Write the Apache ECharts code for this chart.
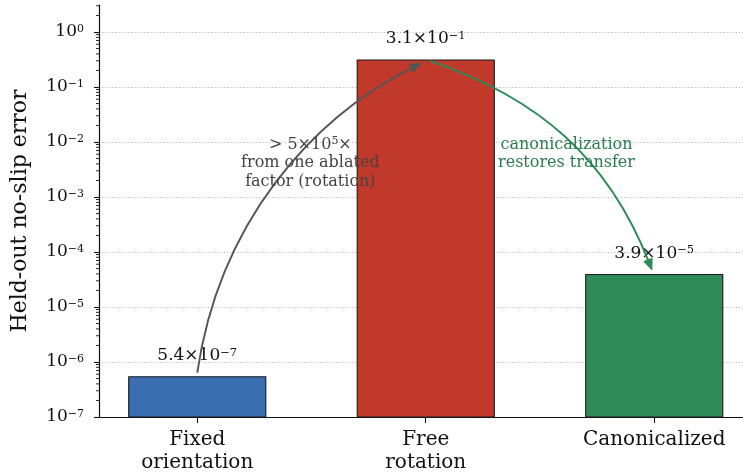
<!DOCTYPE html>
<html>
<head>
<meta charset="utf-8">
<script src="https://cdn.jsdelivr.net/npm/echarts@6/dist/echarts.min.js"></script>
<style>html,body{margin:0;padding:0;background:#fff}#c{width:743px;height:474px}</style>
</head>
<body>
<div id="c"></div>
<script>
// ---- data ----
const categories = ['Fixed\norientation', 'Free\nrotation', 'Canonicalized'];
const errors = [5.4e-7, 3.1e-1, 3.9e-5];
const labelMantissa = ['5.4', '3.1', '3.9'];
const labelExponent = [-7, -1, -5];
const yTickExponents = [-7, -6, -5, -4, -3, -2, -1, 0];
const barColors = ['#3a6eb0', '#c0392b', '#2e8b57'];

// ---- layout / style ----
const SERIF = "'DejaVu Serif', serif";
const MINUS = '\u2212';
const Y_MIN = 1e-7, Y_MAX = 3.1;
const X_MIN = -0.43, X_MAX = 2.43;
const BAR_W = 0.6;
const expStr = e => (e < 0 ? MINUS : '') + Math.abs(e);

const annotations = [
  { from: [0, 6.4e-7], to: [0.98, 0.27], c1: [22, -150], c2: [-110, 55], color: '#555555' },
  { from: [1.02, 0.30], to: [1.99, 4.7e-5], c1: [108, 37], c2: [-44, -112], color: '#2e8b57' }
];
const notes = [
  { at: [0.495, 4.15e-3], color: '#444444',
    text: '{g|> 5×10}{gs|5}{g|×}\n{g|from one ablated}\n{g|factor (rotation)}' },
  { at: [1.616, 6.1e-3], color: '#2b7d50',
    text: '{g|canonicalization}\n{g|restores transfer}' }
];

const chart = echarts.init(document.getElementById('c'), null, { renderer: 'canvas' });

const option = {
  backgroundColor: '#ffffff',
  animation: false,
  grid: { left: 99, top: 5, width: 653.5, height: 412, containLabel: false, outerBoundsMode: 'none' },
  xAxis: {
    type: 'value', min: X_MIN, max: X_MAX,
    splitLine: { show: false },
    axisLine: { onZero: false, lineStyle: { color: '#111', width: 1.2 } },
    axisTick: { show: true, customValues: [0, 1, 2], length: 6, lineStyle: { color: '#111', width: 1.1 } },
    axisLabel: {
      customValues: [0, 1, 2],
      formatter: v => categories[Math.round(v)],
      fontFamily: SERIF, fontSize: 20, lineHeight: 23, color: '#111', margin: 11
    }
  },
  yAxis: {
    type: 'log', logBase: 10, min: Y_MIN, max: Y_MAX,
    name: 'Held-out no-slip error', nameLocation: 'middle', nameGap: 68,
    nameTextStyle: { fontFamily: SERIF, fontSize: 22, color: '#111' },
    axisLine: { show: true, onZero: false, lineStyle: { color: '#111', width: 1.2 } },
    axisTick: { show: true, length: 5, lineStyle: { color: '#111', width: 1.1 } },
    splitLine: { show: true, showMinLine: false, showMaxLine: false,
      lineStyle: { color: '#b8b8b8', width: 1, type: [1.2, 2] } },
    axisLabel: {
      margin: 15, showMaxLabel: false,
      formatter: v => {
        const e = Math.log10(v);
        const r = Math.round(e);
        if (Math.abs(e - r) > 1e-6 || yTickExponents.indexOf(r) < 0) return '';
        return '{m|10}{e|' + expStr(r) + '}';
      },
      rich: {
        m: { fontFamily: SERIF, fontSize: 17, color: '#111', lineHeight: 16 },
        e: { fontFamily: SERIF, fontSize: 11, color: '#111', lineHeight: 16, verticalAlign: 'top' }
      }
    }
  },
  series: [
    {
      type: 'custom', name: 'bars', coordinateSystem: 'cartesian2d', z: 3, clip: false,
      data: errors.map((v, i) => [i, v]),
      encode: { x: 0, y: 1 },
      renderItem: (params, api) => {
        const i = params.dataIndex;
        const x = api.value(0), v = api.value(1);
        const top = api.coord([x, v]);
        const bot = api.coord([x, Y_MIN]);
        const l = api.coord([x - BAR_W / 2, v])[0];
        const r = api.coord([x + BAR_W / 2, v])[0];
        return {
          type: 'group',
          children: [
            { type: 'rect', shape: { x: l, y: top[1], width: r - l, height: bot[1] - top[1] },
              style: { fill: barColors[i], stroke: '#1a1a1a', lineWidth: 1.1 } },
            { type: 'text', x: top[0], y: top[1] - 12, z2: 10,
              style: {
                text: '{m|' + labelMantissa[i] + '×10}{e|' + expStr(labelExponent[i]) + '}',
                align: 'center', verticalAlign: 'bottom',
                rich: {
                  m: { fontFamily: SERIF, fontSize: 17, fill: '#111', lineHeight: 18 },
                  e: { fontFamily: SERIF, fontSize: 11.5, fill: '#111', lineHeight: 18, verticalAlign: 'top' }
                }
              } }
          ]
        };
      }
    },
    {
      type: 'custom', name: 'decor', coordinateSystem: 'cartesian2d', z: 5, clip: false, silent: true,
      data: [[0, 1]],
      encode: { x: 0, y: 1 },
      renderItem: (params, api) => {
        const children = [];
        // log minor ticks
        const axisX = api.coord([X_MIN, 1])[0];
        yTickExponents.forEach(n => {
          for (let k = 2; k <= 9; k++) {
            const v = k * Math.pow(10, n);
            if (v > Y_MAX) continue;
            const y = api.coord([0, v])[1];
            children.push({ type: 'line', shape: { x1: axisX - 3, y1: y, x2: axisX, y2: y },
              style: { stroke: '#111', lineWidth: 0.9 } });
          }
        });
        // curved arrows
        annotations.forEach(a => {
          const p0 = api.coord(a.from), p3 = api.coord(a.to);
          const c1 = [p0[0] + a.c1[0], p0[1] + a.c1[1]];
          const c2 = [p3[0] + a.c2[0], p3[1] + a.c2[1]];
          const dx = p3[0] - c2[0], dy = p3[1] - c2[1];
          const L = Math.hypot(dx, dy), ux = dx / L, uy = dy / L;
          const hl = 11, hw = 4.5;
          const bx = p3[0] - ux * hl, by = p3[1] - uy * hl;
          children.push({ type: 'bezierCurve',
            shape: { x1: p0[0], y1: p0[1], x2: bx + ux * 2, y2: by + uy * 2,
                     cpx1: c1[0], cpy1: c1[1], cpx2: c2[0], cpy2: c2[1] },
            style: { stroke: a.color, lineWidth: 1.9, fill: 'none' } });
          children.push({ type: 'polygon',
            shape: { points: [[p3[0], p3[1]], [bx - uy * hw, by + ux * hw], [bx + uy * hw, by - ux * hw]] },
            style: { fill: a.color, stroke: a.color, lineWidth: 0.8 } });
        });
        // annotation texts
        notes.forEach(t => {
          const p = api.coord(t.at);
          children.push({ type: 'text', x: p[0], y: p[1], z2: 20,
            style: {
              text: t.text, align: 'center', verticalAlign: 'middle',
              rich: {
                g: { fontFamily: SERIF, fontSize: 16, fill: t.color, lineHeight: 18.5 },
                gs: { fontFamily: SERIF, fontSize: 11, fill: t.color, lineHeight: 18.5, verticalAlign: 'top' }
              }
            } });
        });
        return { type: 'group', children };
      }
    }
  ]
};
chart.setOption(option);
</script>
</body>
</html>
